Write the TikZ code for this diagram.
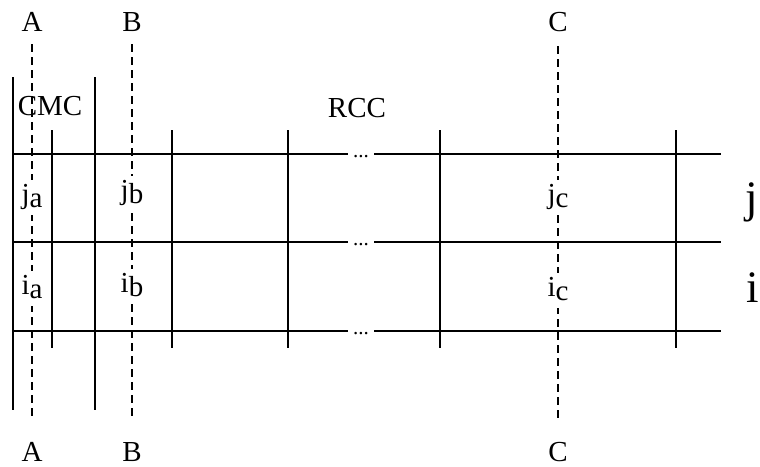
\documentclass[tikz,border=0pt]{standalone}
\usepackage{fontspec}
\setmainfont{Liberation Serif}
\newcommand\lowsub[1]{\raisebox{-4pt}{#1}}
\begin{document}
\begin{tikzpicture}[x=1pt,y=-1pt,
  gridline/.style={line width=1.3pt},
  cutline/.style={line width=1.3pt, dash pattern=on 8pt off 5pt},
  lbl/.style={font=\fontsize{29}{32}\selectfont, inner sep=0pt, anchor=base},
  cell/.style={font=\fontsize{29}{32}\selectfont, inner xsep=2pt, inner ysep=3pt,
     text height=20pt, text depth=9pt, fill=white, anchor=base},
  big/.style={font=\fontsize{45}{48}\selectfont, inner sep=0pt, anchor=base},
  dotsgap/.style={font=\fontsize{21}{24}\selectfont, inner xsep=5pt, inner ysep=2pt, fill=white, anchor=base}]
\useasboundingbox (0,0) rectangle (760,466);
% horizontal lines
\foreach \y in {154,242,331}{
  \draw[gridline] (13,\y) -- (721,\y);
}
% tall CMC lines
\draw[gridline] (13,77) -- (13,410);
\draw[gridline] (95,77) -- (95,410);
% short lines
\foreach \x in {52,172,288,440,676}{
  \draw[gridline] (\x,130) -- (\x,348);
}
% gaps with dots
\node[dotsgap] (d1) at (361,157) {...};
\node[dotsgap] (d2) at (361,245) {...};
\node[dotsgap] (d3) at (361,334) {...};
% dashed cut lines
\coordinate (a1) at (32,44);  \coordinate (a2) at (32,418);
\coordinate (b1) at (132,44); \coordinate (b2) at (132,418);
\coordinate (c1) at (558,46); \coordinate (c2) at (558,420);
\draw[cutline] (a1) -- (a2);
\draw[cutline] (b1) -- (b2);
\draw[cutline] (c1) -- (c2);
% labels top / bottom
\node[lbl] (At) at (32,31) {A};
\node[lbl] (Bt) at (132,31) {B};
\node[lbl] (Ct) at (558,31) {C};
\node[lbl] (Ab) at (32,461) {A};
\node[lbl] (Bb) at (132,461) {B};
\node[lbl] (Cb) at (558,461) {C};
\node[lbl] (cmc) at (50,115) {CMC};
\node[lbl] (rcc) at (357,117) {RCC};
% cell labels
\node[cell] (ja) at (32,203) {j\lowsub{a}};
\node[cell] (jb) at (132,199) {j\lowsub{b}};
\node[cell] (jc) at (558,203) {j\lowsub{c}};
\node[cell] (ia) at (32,294) {i\lowsub{a}};
\node[cell] (ib) at (132,292) {i\lowsub{b}};
\node[cell] (ic) at (558,296) {i\lowsub{c}};
% big row labels
\node[big] (jbig) at (752,212) {j};
\node[big] (ibig) at (753,302) {i};
\end{tikzpicture}
\end{document}
